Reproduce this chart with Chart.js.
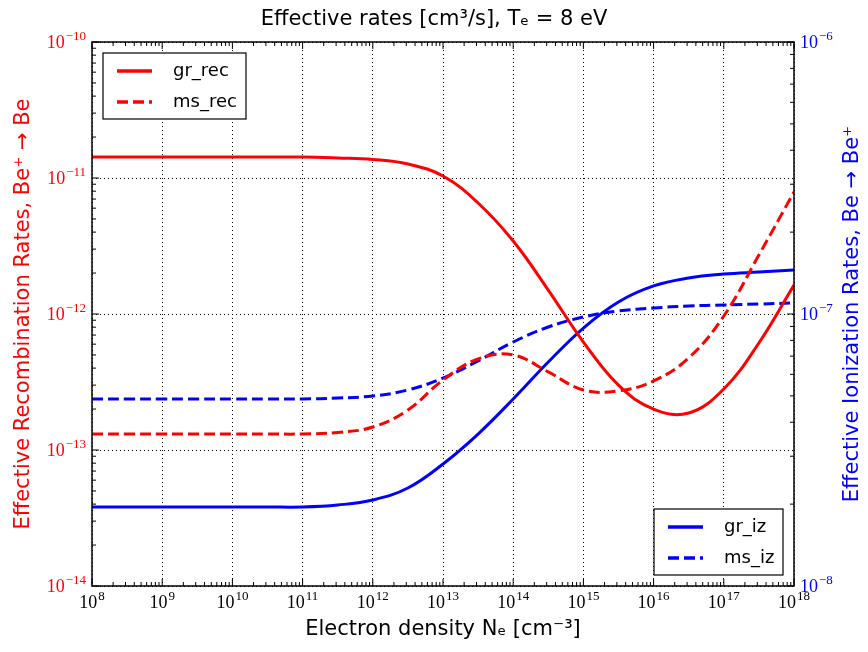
<!DOCTYPE html>
<html>
<head>
<meta charset="utf-8">
<script src="https://cdn.jsdelivr.net/npm/chart.js@4.4.1/dist/chart.umd.min.js"></script>
<style>
  body { margin: 0; background: #fff; }
  #wrap { position: relative; width: 868px; height: 652px; }
</style>
</head>
<body>
<div id="wrap"><canvas id="chart"></canvas></div>
<script>
// electron density grid [cm^-3], half decades
const density = [1e8, 3.16e8, 1e9, 3.16e9, 1e10, 3.16e10, 1e11, 3.16e11, 1e12, 3.16e12, 1e13,
  3.16e13, 1e14, 3.16e14, 1e15, 3.16e15, 1e16, 3.16e16, 1e17, 3.16e17, 1e18];

// recombination rates (left axis)
const grRec = [1.427e-11, 1.427e-11, 1.427e-11, 1.427e-11, 1.427e-11, 1.427e-11, 1.427e-11, 1.403e-11, 1.368e-11,
  1.268e-11, 1.034e-11, 6.55e-12, 3.44e-12, 1.50e-12, 6.22e-13, 3.0e-13, 2.0e-13, 1.87e-13, 2.81e-13, 6.12e-13, 1.633e-12];
const msRec = [1.311e-13, 1.311e-13, 1.311e-13, 1.311e-13, 1.311e-13, 1.311e-13, 1.311e-13, 1.345e-13, 1.476e-13,
  1.968e-13, 3.27e-13, 4.67e-13, 5.0e-13, 3.75e-13, 2.76e-13, 2.72e-13, 3.22e-13, 4.75e-13, 9.67e-13, 2.715e-12, 7.89e-12];

// ionization rates (right axis)
const grIz = [1.952e-8, 1.952e-8, 1.952e-8, 1.952e-8, 1.952e-8, 1.952e-8, 1.952e-8, 1.985e-8, 2.071e-8,
  2.293e-8, 2.81e-8, 3.62e-8, 4.87e-8, 6.66e-8, 8.88e-8, 1.107e-7, 1.268e-7, 1.357e-7, 1.403e-7, 1.427e-7, 1.451e-7];
const msIz = [4.87e-8, 4.87e-8, 4.87e-8, 4.87e-8, 4.87e-8, 4.87e-8, 4.87e-8, 4.91e-8, 4.995e-8,
  5.256e-8, 5.815e-8, 6.72e-8, 7.89e-8, 8.96e-8, 9.75e-8, 1.026e-7, 1.052e-7, 1.07e-7, 1.079e-7, 1.088e-7, 1.098e-7];

// tick positions and labels (10^exp)
const xTicks = [1e8, 1e9, 1e10, 1e11, 1e12, 1e13, 1e14, 1e15, 1e16, 1e17, 1e18];
const xTickExp = ["8", "9", "10", "11", "12", "13", "14", "15", "16", "17", "18"];
const leftTicks = [1e-14, 1e-13, 1e-12, 1e-11, 1e-10];
const leftTickExp = ["−14", "−13", "−12", "−11", "−10"];
const rightTicks = [1e-8, 1e-7, 1e-6];
const rightTickExp = ["−8", "−7", "−6"];

const RED = "#ff0000";
const BLUE = "#0000ff";
const SANS = "'DejaVu Sans', sans-serif";
const SERIF = "'Liberation Serif', serif";

const pts = (ys) => density.map((x, i) => ({ x: x, y: ys[i] }));

// minor tick values between decades
const minorValues = (min, max) => {
  const out = [];
  for (let d = Math.round(Math.log10(min)); d < Math.round(Math.log10(max)); d++) {
    for (let k = 2; k <= 9; k++) out.push(k * Math.pow(10, d));
  }
  return out;
};

// "10" with a raised exponent; align: 'center' | 'right' | 'left'
const drawPow = (ctx, x, y, exp, color, align) => {
  ctx.font = "18px " + SERIF;
  const wb = ctx.measureText("10").width;
  ctx.font = "13px " + SERIF;
  const we = ctx.measureText(exp).width;
  const w = wb + we + 1;
  let x0 = x;
  if (align === "center") x0 = x - w / 2;
  if (align === "right") x0 = x - w;
  ctx.fillStyle = color;
  ctx.textAlign = "left";
  ctx.textBaseline = "alphabetic";
  ctx.font = "18px " + SERIF;
  ctx.fillText("10", x0, y);
  ctx.font = "13px " + SERIF;
  ctx.fillText(exp, x0 + wb + 1, y - 8);
};

// frame, inward ticks and tick labels, matplotlib style
const frameTicks = {
  id: "frameTicks",
  afterDatasetsDraw(chart) {
    const { ctx, chartArea: a, scales } = chart;
    const line = (x1, y1, x2, y2) => {
      ctx.beginPath();
      ctx.moveTo(x1, y1);
      ctx.lineTo(x2, y2);
      ctx.stroke();
    };
    ctx.save();
    ctx.strokeStyle = "#000";
    ctx.lineWidth = 1;
    const MAJ = 7, MIN = 4;

    xTicks.forEach((v) => {
      const px = scales.x.getPixelForValue(v);
      line(px, a.bottom, px, a.bottom - MAJ);
      line(px, a.top, px, a.top + MAJ);
    });
    minorValues(1e8, 1e18).forEach((v) => {
      const px = scales.x.getPixelForValue(v);
      line(px, a.bottom, px, a.bottom - MIN);
      line(px, a.top, px, a.top + MIN);
    });
    leftTicks.forEach((v) => {
      const py = scales.yL.getPixelForValue(v);
      line(a.left, py, a.left + MAJ, py);
    });
    minorValues(1e-14, 1e-10).forEach((v) => {
      const py = scales.yL.getPixelForValue(v);
      line(a.left, py, a.left + MIN, py);
    });
    rightTicks.forEach((v) => {
      const py = scales.yR.getPixelForValue(v);
      line(a.right, py, a.right - MAJ, py);
    });
    minorValues(1e-8, 1e-6).forEach((v) => {
      const py = scales.yR.getPixelForValue(v);
      line(a.right, py, a.right - MIN, py);
    });

    ctx.lineWidth = 1.5;
    ctx.strokeRect(a.left, a.top, a.width, a.height);

    xTicks.forEach((v, i) => drawPow(ctx, scales.x.getPixelForValue(v), a.bottom + 22, xTickExp[i], "#000", "center"));
    leftTicks.forEach((v, i) => drawPow(ctx, a.left - 6, scales.yL.getPixelForValue(v) + 6, leftTickExp[i], RED, "right"));
    rightTicks.forEach((v, i) => drawPow(ctx, a.right + 6, scales.yR.getPixelForValue(v) + 6, rightTickExp[i], BLUE, "left"));
    ctx.restore();
  },
};

// two boxed legends + right axis title (reads bottom to top)
const extras = {
  id: "extras",
  afterDraw(chart) {
    const { ctx, chartArea: a } = chart;
    const ds = chart.data.datasets;

    const drawBox = (x, y, w, h, items) => {
      ctx.save();
      ctx.fillStyle = "#fff";
      ctx.fillRect(x, y, w, h);
      ctx.strokeStyle = "#000";
      ctx.lineWidth = 1.2;
      ctx.strokeRect(x, y, w, h);
      items.forEach((d, i) => {
        const ry = y + 18 + i * 31;
        ctx.strokeStyle = d.borderColor;
        ctx.lineWidth = 3.5;
        ctx.setLineDash(d.borderDash || []);
        ctx.beginPath();
        ctx.moveTo(x + 14, ry);
        ctx.lineTo(x + 49, ry);
        ctx.stroke();
        ctx.setLineDash([]);
        ctx.fillStyle = "#000";
        ctx.font = "18px " + SANS;
        ctx.textBaseline = "middle";
        ctx.textAlign = "left";
        ctx.fillText(d.label, x + 70, ry);
      });
      ctx.restore();
    };

    drawBox(a.left + 11, a.top + 11, 143, 66, [ds[0], ds[1]]);
    drawBox(a.right - 11 - 129, a.bottom - 11 - 66, 129, 66, [ds[2], ds[3]]);

    ctx.save();
    ctx.translate(853, (a.top + a.bottom) / 2);
    ctx.rotate(-Math.PI / 2);
    ctx.fillStyle = BLUE;
    ctx.font = "21px " + SANS;
    ctx.textAlign = "center";
    ctx.textBaseline = "middle";
    ctx.fillText("Effective Ionization Rates, Be → Be⁺", 0, 0);
    ctx.restore();
  },
};

const ctx = document.getElementById("chart").getContext("2d");

new Chart(ctx, {
  type: "line",
  data: {
    datasets: [
      { label: "gr_rec", data: pts(grRec), yAxisID: "yL", borderColor: RED, borderWidth: 3 },
      { label: "ms_rec", data: pts(msRec), yAxisID: "yL", borderColor: RED, borderWidth: 3, borderDash: [11, 5] },
      { label: "gr_iz", data: pts(grIz), yAxisID: "yR", borderColor: BLUE, borderWidth: 3 },
      { label: "ms_iz", data: pts(msIz), yAxisID: "yR", borderColor: BLUE, borderWidth: 3, borderDash: [11, 5] },
    ],
  },
  options: {
    responsive: true,
    maintainAspectRatio: false,
    animation: false,
    layout: { padding: 0 },
    elements: {
      point: { radius: 0 },
      line: { tension: 0.4, fill: false },
    },
    plugins: {
      legend: { display: false },
      tooltip: { enabled: false },
      title: {
        display: true,
        text: "Effective rates [cm³/s], Tₑ = 8 eV",
        color: "#000",
        font: { family: SANS, size: 21, weight: "normal", lineHeight: "24px" },
        padding: { top: 8, bottom: 10 },
      },
    },
    scales: {
      x: {
        type: "logarithmic",
        position: "bottom",
        min: 1e8,
        max: 1e18,
        afterBuildTicks: (s) => { s.ticks = xTicks.map((v) => ({ value: v })); },
        afterFit: (s) => { s.height = 66; },
        ticks: { display: false },
        grid: { color: "#000", lineWidth: 1, drawTicks: false },
        border: { display: false, dash: [1, 3] },
        title: {
          display: true,
          text: "Electron density Nₑ [cm⁻³]",
          color: "#000",
          font: { family: SANS, size: 21, lineHeight: "24px" },
          padding: { top: 0, bottom: 10 },
        },
      },
      yL: {
        type: "logarithmic",
        position: "left",
        min: 1e-14,
        max: 1e-10,
        afterBuildTicks: (s) => { s.ticks = leftTicks.map((v) => ({ value: v })); },
        afterFit: (s) => { s.width = 92; },
        ticks: { display: false },
        grid: { color: "#000", lineWidth: 1, drawTicks: false },
        border: { display: false, dash: [1, 3] },
        title: {
          display: true,
          text: "Effective Recombination Rates, Be⁺ → Be",
          color: RED,
          font: { family: SANS, size: 21, lineHeight: "24px" },
          padding: { top: 12, bottom: 0 },
        },
      },
      yR: {
        type: "logarithmic",
        position: "right",
        min: 1e-8,
        max: 1e-6,
        afterBuildTicks: (s) => { s.ticks = rightTicks.map((v) => ({ value: v })); },
        afterFit: (s) => { s.width = 74; },
        ticks: { display: false },
        grid: { drawOnChartArea: false, drawTicks: false },
        border: { display: false },
      },
    },
  },
  plugins: [frameTicks, extras],
});
</script>
</body>
</html>
